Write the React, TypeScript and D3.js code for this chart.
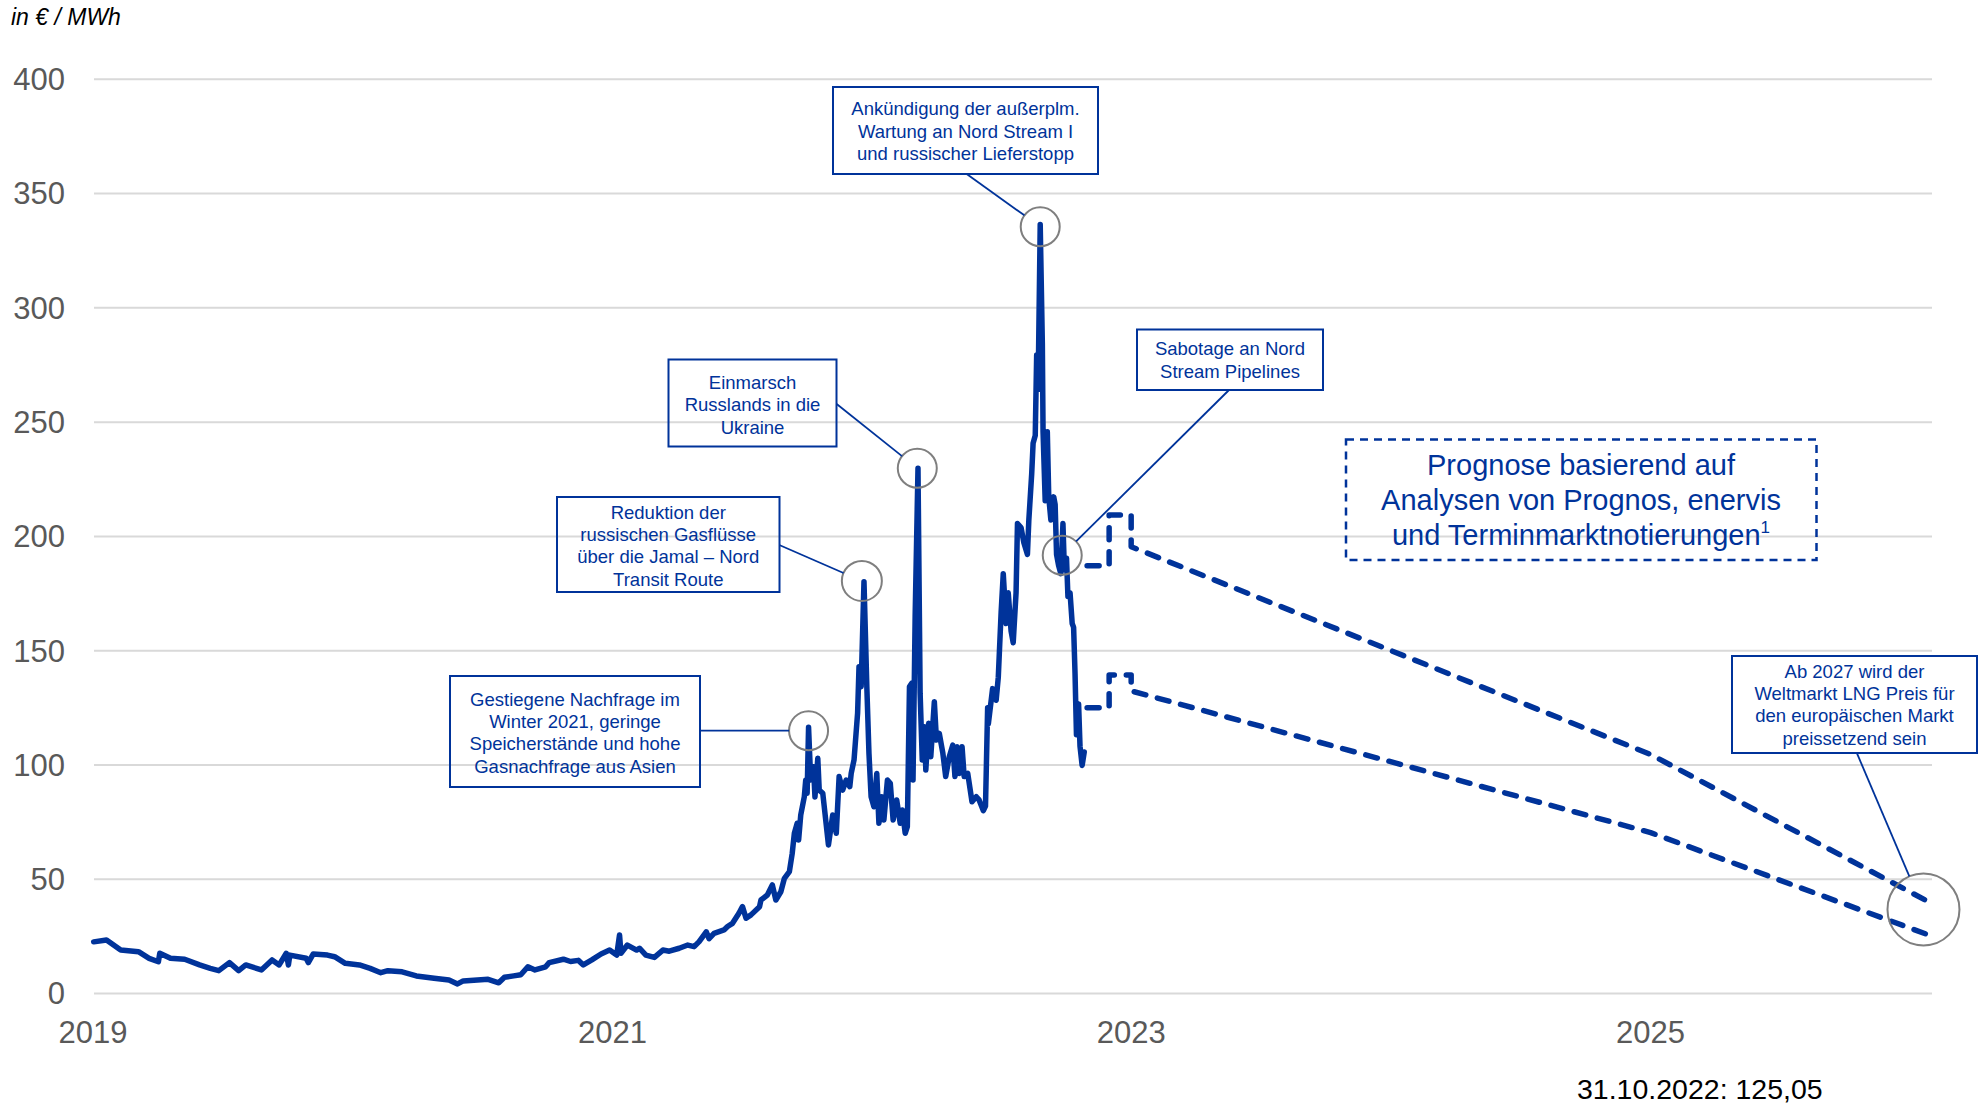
import React from "react";
import * as d3 from "d3";

// ---------- DATA ----------
const histDates = [
  "2019-01-02","2019-01-20","2019-02-09","2019-03-06","2019-03-21","2019-04-03","2019-04-05","2019-04-20",
  "2019-05-10","2019-05-31","2019-06-15","2019-06-27","2019-07-12","2019-07-25","2019-08-04","2019-08-26",
  "2019-09-10","2019-09-20","2019-09-30","2019-10-03","2019-10-05","2019-10-28","2019-10-31","2019-11-07",
  "2019-11-27","2019-12-07","2019-12-22","2020-01-11","2020-01-26","2020-02-10","2020-02-20","2020-03-11",
  "2020-03-31","2020-04-25","2020-05-16","2020-05-28","2020-06-05","2020-06-25","2020-07-10","2020-07-25",
  "2020-08-02","2020-08-15","2020-08-25","2020-09-04","2020-09-14","2020-09-29","2020-10-04","2020-10-24",
  "2020-11-03","2020-11-14","2020-11-21","2020-12-03","2020-12-16","2020-12-28","2021-01-07","2021-01-11",
  "2021-01-13","2021-01-22","2021-02-04","2021-02-08","2021-02-17","2021-03-01","2021-03-13","2021-03-22",
  "2021-04-05","2021-04-17","2021-04-26","2021-05-03","2021-05-13","2021-05-17","2021-05-24","2021-06-07",
  "2021-06-12","2021-06-19","2021-06-28","2021-07-03","2021-07-08","2021-07-15","2021-07-27","2021-07-29",
  "2021-08-07","2021-08-14","2021-08-19","2021-08-26","2021-08-31","2021-09-07","2021-09-11","2021-09-14",
  "2021-09-18","2021-09-20","2021-09-23","2021-09-28","2021-09-30","2021-10-02","2021-10-04","2021-10-07",
  "2021-10-11","2021-10-13","2021-10-17","2021-10-19","2021-10-24","2021-11-01","2021-11-07","2021-11-12",
  "2021-11-16","2021-11-21","2021-11-26","2021-12-01","2021-12-03","2021-12-07","2021-12-12","2021-12-14",
  "2021-12-17","2021-12-21","2021-12-25","2021-12-28","2021-12-31","2022-01-04","2022-01-08","2022-01-11",
  "2022-01-15","2022-01-18","2022-01-23","2022-01-27","2022-01-31","2022-02-05","2022-02-10","2022-02-13",
  "2022-02-17","2022-02-20","2022-02-23","2022-02-26","2022-02-28","2022-03-03","2022-03-07","2022-03-10",
  "2022-03-13","2022-03-16","2022-03-18","2022-03-22","2022-03-25","2022-03-30","2022-04-02","2022-04-06",
  "2022-04-11","2022-04-15","2022-04-20","2022-04-25","2022-04-28","2022-05-01","2022-05-04","2022-05-08",
  "2022-05-11","2022-05-16","2022-05-22","2022-05-28","2022-06-01","2022-06-07","2022-06-10","2022-06-13",
  "2022-06-14","2022-06-20","2022-06-25","2022-06-28","2022-07-02","2022-07-05","2022-07-09","2022-07-12",
  "2022-07-16","2022-07-19","2022-07-23","2022-07-25","2022-07-30","2022-08-03","2022-08-08","2022-08-10",
  "2022-08-14","2022-08-16","2022-08-19","2022-08-21","2022-08-23","2022-08-26","2022-08-29","2022-08-30",
  "2022-09-02","2022-09-05","2022-09-07","2022-09-10","2022-09-14","2022-09-16","2022-09-18","2022-09-21",
  "2022-09-24","2022-09-27","2022-09-29","2022-10-02","2022-10-04","2022-10-07","2022-10-10","2022-10-12",
  "2022-10-14","2022-10-16","2022-10-19","2022-10-21","2022-10-24","2022-10-27"
];
const histValues = [
  22.6,23.4,19,18.3,15.4,13.9,17.6,15.4,
  15,12.5,11,10,13.5,10,12.5,10.3,
  14.7,12.5,17.6,12.5,16.8,15.4,13.5,17.3,
  16.8,16.1,13.2,12.5,11,9.1,10,9.5,
  7.7,6.7,5.9,4.2,5.5,5.9,6.2,4.7,
  7.1,7.7,8.2,11.7,10.3,11.7,13.5,15,
  14,14.5,12.5,14.7,17.3,19,16.8,25.6,
  17.6,21.2,19,19.8,16.8,15.8,19,18.5,
  19.8,21.2,20.5,22.7,27,24,26.3,27.8,
  29.3,30.7,35.1,38,32.9,34.4,38,40.9,
  43.1,47.5,40.9,44.5,50.4,53.3,61.3,70.1,
  74.5,67.2,78.1,86.1,93.4,87.6,116.5,93.4,
  99.2,86,102.9,89,87.6,65,78.1,70.1,
  94.9,89,93.4,90.5,96.3,102.2,122.6,143,
  134.2,180.2,134.2,105.1,86.1,81.7,96.3,74.5,
  86.1,75.9,93.4,92,75.9,84.7,74.5,80.3,
  70.1,73,134.2,135.7,93.4,164.9,229.8,131.4,
  102.2,116.7,97.8,118.2,103.6,127.7,110.9,113.8,
  105.1,94.9,103.6,108.7,94.9,108,96.3,108,
  94.9,96.3,83.9,86.1,84.7,80,82,125,
  118,133.4,128.3,138.4,166.9,183.7,161.9,175.3,
  158.6,153.5,175.3,205.6,203.9,197.2,192.1,207.2,
  227.3,240.8,244.1,279.4,264.3,336.5,284.4,245.8,
  215.6,245.8,217.3,207.2,217.3,214,192.1,187.1,
  183.7,205.6,185.4,190.5,173.7,175.3,161.9,160.2,
  140.1,113.2,126.7,108.2,99.8,105.7
];

const forecastHighDates = ["2022-10-31","2022-12-01","2022-12-01","2023-01-01","2023-01-01","2025-01-01","2026-01-31"];
const forecastHighValues = [187.2,187.2,209.4,209.4,195.5,104.6,39.5];
const forecastLowDates = ["2022-10-31","2022-12-01","2022-12-01","2023-01-01","2023-01-01","2025-01-01","2026-01-31"];
const forecastLowValues = [125.05,125.05,139.4,139.4,132.4,70.4,25.2];

const yTicks = [0, 50, 100, 150, 200, 250, 300, 350, 400];
const xTickYears = [2019, 2021, 2023, 2025];

const unitLabel = "in € / MWh";
const footnote = "31.10.2022: 125,05";

// ---------- LAYOUT ----------
const W = 1978, H = 1104;
const BLUE = "#00339a";
const FONT = "'Liberation Sans', Arial, Helvetica, sans-serif";
const parse = d3.timeParse("%Y-%m-%d");

const x = d3.scaleTime().domain([new Date(2019, 0, 1), new Date(2026, 1, 1)]).range([93, 1932]);
const y = d3.scaleLinear().domain([0, 400]).range([993.5, 79.3]);

const hist = histDates.map((d, i) => ({ d: parse(d)!, v: histValues[i] }));
const fHigh = forecastHighDates.map((d, i) => ({ d: parse(d)!, v: forecastHighValues[i] }));
const fLow = forecastLowDates.map((d, i) => ({ d: parse(d)!, v: forecastLowValues[i] }));

const line = d3.line<{ d: Date; v: number }>().x((p) => x(p.d)).y((p) => y(p.v));

type Ann = {
  lines: string[];
  box: [number, number, number, number];
  baselines: number[];
  anchor: [number, number];
  date: string;
  value: number;
  r: number;
};

const annotations: Ann[] = [
  {
    lines: ["Ankündigung der außerplm.", "Wartung an Nord Stream I", "und russischer Lieferstopp"],
    box: [833, 87, 265, 87], baselines: [115, 137.5, 159.5], anchor: [966.7, 174],
    date: "2022-08-26", value: 335.5, r: 19.5,
  },
  {
    lines: ["Sabotage an Nord", "Stream Pipelines"],
    box: [1137, 329.5, 186, 60.5], baselines: [355, 377.5], anchor: [1229, 390],
    date: "2022-09-26", value: 191.8, r: 19.5,
  },
  {
    lines: ["Einmarsch", "Russlands in die", "Ukraine"],
    box: [668.5, 359.5, 168, 87], baselines: [388.5, 411, 433.5], anchor: [836.7, 404],
    date: "2022-03-06", value: 229.8, r: 19.5,
  },
  {
    lines: ["Reduktion der", "russischen Gasflüsse", "über die Jamal – Nord", "Transit Route"],
    box: [557, 497, 222.5, 95], baselines: [518.5, 541, 563.3, 585.7], anchor: [779.3, 545],
    date: "2021-12-18", value: 180.5, r: 20,
  },
  {
    lines: ["Gestiegene Nachfrage im", "Winter 2021, geringe", "Speicherstände und hohe", "Gasnachfrage aus Asien"],
    box: [450, 676, 250, 111], baselines: [705.7, 728, 750.3, 772.5], anchor: [700, 730.7],
    date: "2021-10-04", value: 115, r: 19.5,
  },
  {
    lines: ["Ab 2027 wird der", "Weltmarkt LNG Preis für", "den europäischen Markt", "preissetzend sein"],
    box: [1732, 656, 245, 97], baselines: [677.7, 700, 722.3, 744.5], anchor: [1856.7, 752.7],
    date: "2026-01-20", value: 36.8, r: 36,
  },
];

function edgePoint(cx: number, cy: number, r: number, ax: number, ay: number): [number, number] {
  const dx = ax - cx, dy = ay - cy;
  const len = Math.sqrt(dx * dx + dy * dy) || 1;
  return [cx + (dx / len) * r, cy + (dy / len) * r];
}

export default function App() {
  return (
    <svg
      width={W}
      height={H}
      viewBox={`0 0 ${W} ${H}`}
      style={{ position: "absolute", left: 0, top: 0, display: "block", background: "#fff" }}
      fontFamily={FONT}
    >
      <rect x={0} y={0} width={W} height={H} fill="#fff" />
      {/* unit label */}
      <text x={11} y={25} fontSize={23} fontStyle="italic" fill="#000">{unitLabel}</text>

      {/* grid + y labels */}
      {yTicks.map((t) => (
        <g key={t}>
          <line x1={94} x2={1932} y1={y(t)} y2={y(t)} stroke="#d9d9d9" strokeWidth={2} />
          <text x={65} y={y(t)} dy="0.35em" textAnchor="end" fontSize={31} fill="#595959">{t}</text>
        </g>
      ))}

      {/* x labels */}
      {xTickYears.map((yr) => (
        <text key={yr} x={x(new Date(yr, 0, 1))} y={1042.5} textAnchor="middle" fontSize={31} fill="#595959">{yr}</text>
      ))}

      {/* historical line */}
      <path d={line(hist) ?? ""} fill="none" stroke={BLUE} strokeWidth={5.5} strokeLinejoin="round" strokeLinecap="round" />

      {/* forecast lines */}
      {[fHigh, fLow].map((f, i) => (
        <path key={i} d={line(f) ?? ""} fill="none" stroke={BLUE} strokeWidth={5.5}
          strokeDasharray="12 12" strokeLinecap="round" strokeLinejoin="round" />
      ))}

      {/* forecast note box */}
      <rect x={1346} y={439.5} width={470.5} height={120.5} fill="none" stroke={BLUE} strokeWidth={2.5} strokeDasharray="8 6" />
      <g fontSize={29} fill={BLUE} textAnchor="middle">
        <text x={1581} y={475}>Prognose basierend auf</text>
        <text x={1581} y={510}>Analysen von Prognos, enervis</text>
        <text x={1581} y={545}>und Terminmarktnotierungen<tspan fontSize={17} dy={-12}>1</tspan></text>
      </g>

      {/* annotations */}
      {annotations.map((a, i) => {
        const cx = x(parse(a.date)!);
        const cy = y(a.value);
        const [ex, ey] = edgePoint(cx, cy, a.r, a.anchor[0], a.anchor[1]);
        const [bx, by, bw, bh] = a.box;
        return (
          <g key={i}>
            <circle cx={cx} cy={cy} r={a.r} fill="none" stroke="#7f7f7f" strokeWidth={2} />
            <line x1={a.anchor[0]} y1={a.anchor[1]} x2={ex} y2={ey} stroke={BLUE} strokeWidth={1.8} />
            <rect x={bx} y={by} width={bw} height={bh} fill="none" stroke={BLUE} strokeWidth={2} />
            {a.lines.map((l, j) => (
              <text key={j} x={bx + bw / 2} y={a.baselines[j]} textAnchor="middle" fontSize={18.5} fill={BLUE}>{l}</text>
            ))}
          </g>
        );
      })}

      {/* footnote */}
      <text x={1577} y={1099} fontSize={28.5} fill="#000">{footnote}</text>
    </svg>
  );
}
